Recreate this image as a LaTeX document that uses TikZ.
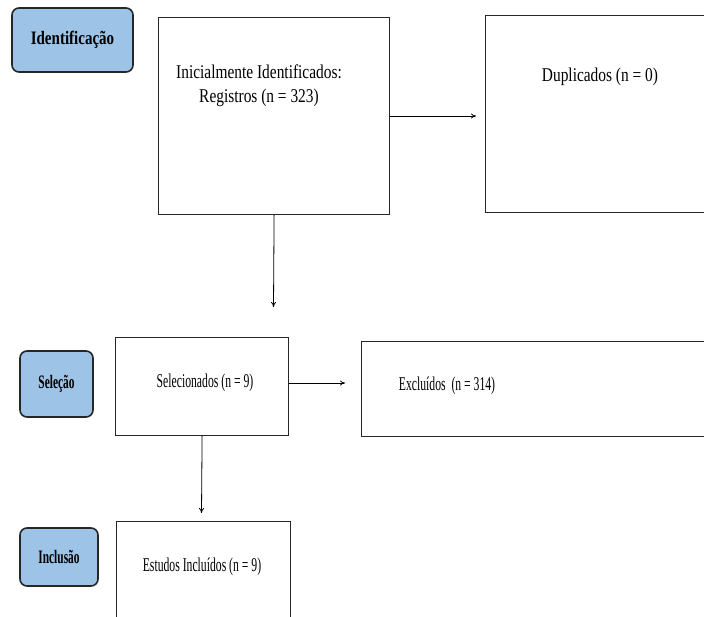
\documentclass[tikz,border=0pt]{standalone}
\usepackage{fontspec}
\setmainfont[FakeStretch=0.79]{Liberation Serif}
\newfontfamily\estreita[FakeStretch=0.6]{Liberation Serif}
\usetikzlibrary{arrows.meta}
\definecolor{azul}{HTML}{9DC3E6}

\tikzset{
  etapa/.style={draw=black!85, line width=1.6pt, rounded corners=7pt, fill=azul,
    font=\fontsize{19}{21}\selectfont\bfseries},
  etapabaixo/.style={etapa, font=\estreita\fontsize{19}{21}\selectfont\bfseries},
  caixa/.style={draw=black!85, line width=1.2pt, anchor=north west},
  texto/.style={font=\fontsize{19.5}{24}\selectfont, align=center},
  baixo/.style={font=\estreita\fontsize{19.5}{24}\selectfont},
  seta/.style={-{To[length=5pt,width=5pt]}, line width=0.8pt}
}

\begin{document}
\begin{tikzpicture}[x=1pt,y=-1pt]
\clip (0,0) rectangle (704,617);
% fases
\node[etapa, minimum width=121pt, minimum height=64pt] (fase1) at (72.5,40) {Identificação};
\node[etapabaixo, minimum width=73pt, minimum height=66pt] (fase2) at (56.5,384) {Seleção};
\node[etapabaixo, minimum width=78pt, minimum height=58pt] (fase3) at (59,557) {Inclusão};
% caixas
\node[caixa, minimum width=231pt, minimum height=197pt] (inicial) at (158,17) {};
\node[caixa, minimum width=240pt, minimum height=197pt] (dupl) at (485,15) {};
\node[caixa, minimum width=173pt, minimum height=98pt] (sel) at (115,337) {};
\node[caixa, minimum width=360pt, minimum height=95pt] (excl) at (361,341) {};
\node[caixa, minimum width=174pt, minimum height=120pt] (incl) at (116,521) {};
% textos
\node[texto] (t1) at (259,86) {Inicialmente Identificados:\\Registros (n = 323)};
\node[texto] (t2) at (600,77) {Duplicados (n = 0)};
\node[texto, baixo] (t3) at (205,383) {Selecionados (n = 9)};
\node[texto, baixo] (t4) at (447,386) {Excluídos\ \ (n = 314)};
\node[texto, baixo] (t5) at (202,567) {Estudos Incluídos (n = 9)};
% setas
\coordinate (c1) at (476,116);
\coordinate (c2) at (273.5,307);
\coordinate (c3) at (345,383);
\coordinate (c4) at (201.5,513);
\draw[seta] (inicial.east |- c1) -- (c1);
\draw[seta] (inicial.south) -- (c2);
\draw[seta] (sel.east |- c3) -- (c3);
\draw[seta] (sel.south) -- (c4);
\end{tikzpicture}
\end{document}
